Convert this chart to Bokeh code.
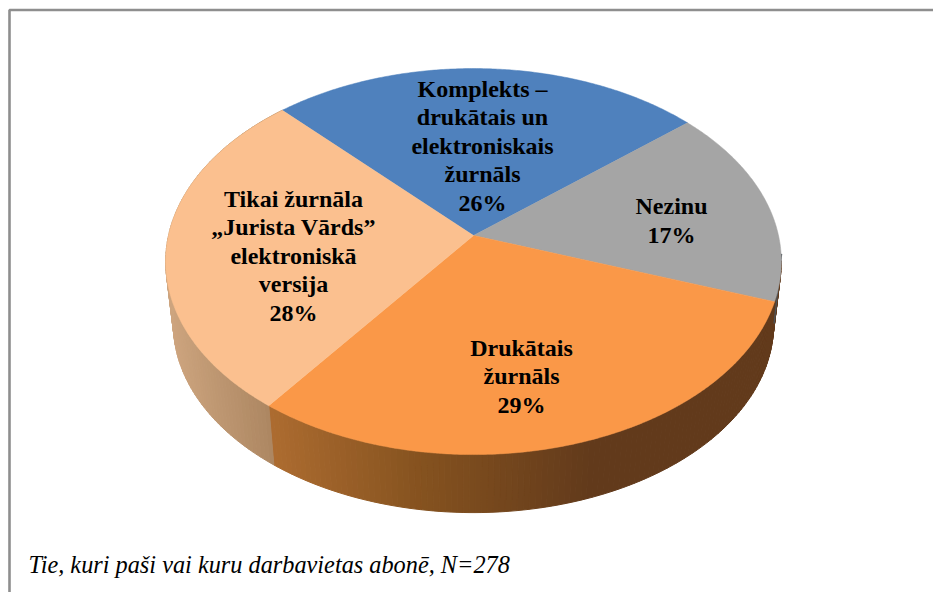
import math
from bokeh.plotting import figure
from bokeh.models import Range1d
from bokeh.core.properties import value
from bokeh.embed import file_html
from bokeh.resources import INLINE

# --- data ---
categories = ["Komplekts – drukātais un elektroniskais žurnāls", "Nezinu", "Drukātais žurnāls",
              "Tikai žurnāla „Jurista Vārds” elektroniskā versija"]
shares = [25.9, 16.6, 29.8, 27.7]   # slice sizes
top_colors = ["#4f81bd", "#a5a5a5", "#fa9848", "#fbc08f"]
label_lines = [["Komplekts –", "drukātais un", "elektroniskais", "žurnāls", "26%"],
               ["Nezinu", "17%"],
               ["Drukātais", "žurnāls", "29%"],
               ["Tikai žurnāla", "„Jurista Vārds”", "elektroniskā", "versija", "28%"]]
footnote = "Tie, kuri paši vai kuru darbavietas abonē, N=278"

# --- layout of the tilted disc (page pixels) ---
W, H = 933, 592
CX, CY = 473.0, 235.0
RX, RY = 305.0, 189.5
PERSP = 0.135
START = 133.5
WALL_Y, WALL_S = 298.5, 0.975
label_anchor = [(482, 88), (671, 205), (521, 347), (293, 198)]
label_step = [28.5, 29.0, 28.5, 28.5]
FONT = "Liberation Serif"


def top_pt(deg):
    t = math.radians(deg)
    w = 1 + PERSP * math.sin(t)
    return CX + RX * math.cos(t) / w, CY - RY * math.sin(t) / w


def low_pt(deg):
    t = math.radians(deg)
    w = 1 + PERSP * math.sin(t)
    return CX + WALL_S * RX * math.cos(t) / w, WALL_Y - WALL_S * RY * math.sin(t) / w


def lerp_color(stops, x):
    if x <= stops[0][0]:
        return stops[0][1]
    for (x0, c0), (x1, c1) in zip(stops, stops[1:]):
        if x <= x1:
            f = (x - x0) / (x1 - x0)
            a = [int(c0[i:i + 2], 16) for i in (1, 3, 5)]
            b = [int(c1[i:i + 2], 16) for i in (1, 3, 5)]
            return "#%02x%02x%02x" % tuple(round(p + (q - p) * f) for p, q in zip(a, b))
    return stops[-1][1]


wall_stops = [
    [],
    [],
    [(270, "#ad6c30"), (420, "#85521f"), (590, "#623a1b"), (781, "#623a1b")],
    [(165, "#cfa680"), (270, "#ad8762")],
]

p = figure(width=W, height=H, x_range=Range1d(0, W), y_range=Range1d(H, 0),
           output_backend="svg", toolbar_location=None, min_border=0,
           background_fill_color="white", border_fill_color="white")
p.axis.visible = False
p.grid.visible = False
p.outline_line_color = None

# frame: only top and left edges are visible
p.line([9, 9, W], [H, 9.5, 9.5], line_color="#8e8e8e", line_width=2.6)

edges = [START]
for s in shares:
    edges.append(edges[-1] - s * 3.6)

# side wall strips, drawn from the data angles
for i, stops in enumerate(wall_stops):
    if not stops:
        continue
    a0, a1 = edges[i], edges[i + 1]
    if i == 2:
        a0 += 12  # the wall runs on behind the grey slice, up to the silhouette
    n = max(2, int(abs(a1 - a0) / 1.0))
    for k in range(n):
        b0 = a0 + (a1 - a0) * k / n
        b1 = a0 + (a1 - a0) * (k + 1) / n
        pts = [top_pt(b0), top_pt(b1), low_pt(b1), low_pt(b0)]
        xmid = sum(q[0] for q in pts) / 4
        c = lerp_color(stops, xmid)
        p.patch([q[0] for q in pts], [q[1] for q in pts], fill_color=c, line_color=c, line_width=1)

# thin dark silhouette line beside the grey slice
sil = [top_pt(edges[2] + 14), low_pt(edges[2] + 12)]
p.line([q[0] + 0.5 for q in sil], [q[1] for q in sil], line_color="#4d5358", line_width=1.3)

# top faces
for i, c in enumerate(top_colors):
    a0, a1 = edges[i], edges[i + 1]
    n = int(abs(a1 - a0)) * 2
    xs, ys = [CX], [CY]
    for k in range(n + 1):
        x, y = top_pt(a0 + (a1 - a0) * k / n)
        xs.append(x)
        ys.append(y)
    p.patch(xs, ys, fill_color=c, line_color=c, line_width=0.5)

# labels
for lines, (ax, ay), step in zip(label_lines, label_anchor, label_step):
    for j, t in enumerate(lines):
        p.text([ax], [ay + j * step], text=[t], text_align="center", text_baseline="middle",
               text_font=value(FONT), text_font_style="bold", text_font_size="24px", text_color="#000000")

p.text([28], [564], text=[footnote], text_align="left", text_baseline="middle",
       text_font=value(FONT), text_font_style="italic", text_font_size="24.3px", text_color="#000000")

open("out.html", "w").write(file_html(p, INLINE))
